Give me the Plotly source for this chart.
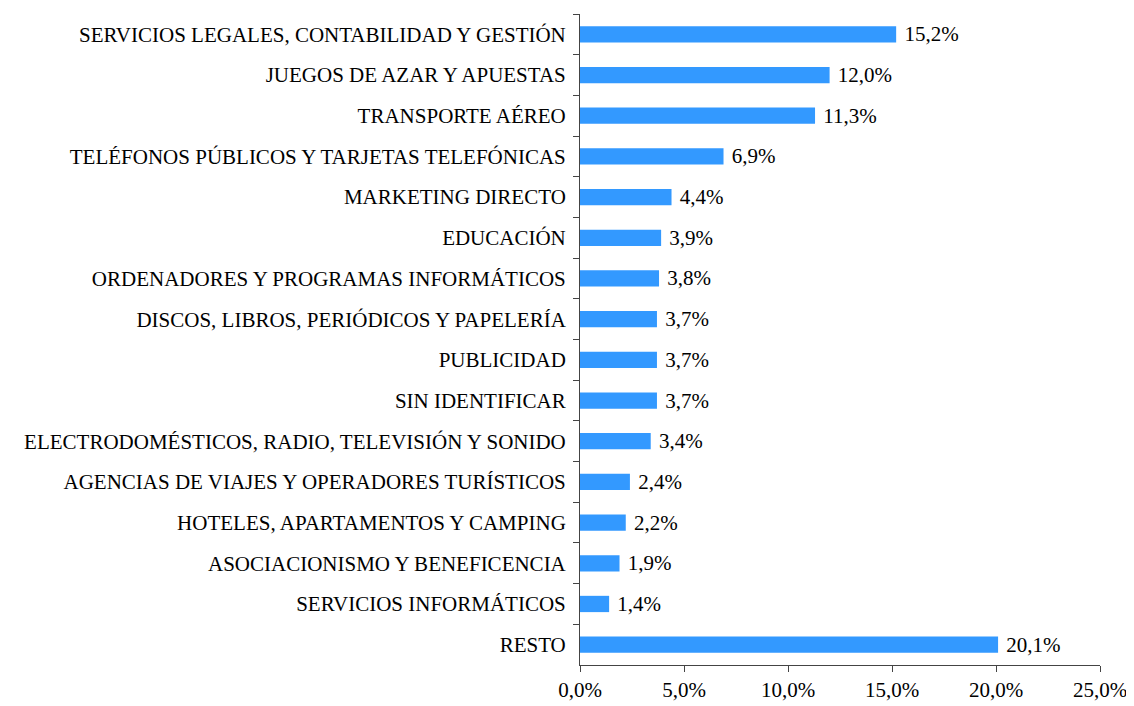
import plotly.graph_objects as go

categories = [
    "SERVICIOS LEGALES, CONTABILIDAD Y GESTIÓN",
    "JUEGOS DE AZAR Y APUESTAS",
    "TRANSPORTE AÉREO",
    "TELÉFONOS PÚBLICOS Y TARJETAS TELEFÓNICAS",
    "MARKETING DIRECTO",
    "EDUCACIÓN",
    "ORDENADORES Y PROGRAMAS INFORMÁTICOS",
    "DISCOS, LIBROS, PERIÓDICOS Y PAPELERÍA",
    "PUBLICIDAD",
    "SIN IDENTIFICAR",
    "ELECTRODOMÉSTICOS, RADIO, TELEVISIÓN Y SONIDO",
    "AGENCIAS DE VIAJES Y OPERADORES TURÍSTICOS",
    "HOTELES, APARTAMENTOS Y CAMPING",
    "ASOCIACIONISMO Y BENEFICENCIA",
    "SERVICIOS INFORMÁTICOS",
    "RESTO",
]
values = [15.2, 12.0, 11.3, 6.9, 4.4, 3.9, 3.8, 3.7, 3.7, 3.7, 3.4, 2.4, 2.2, 1.9, 1.4, 20.1]
x_ticks = [0, 5, 10, 15, 20, 25]
x_ticktext = [f"{v:.1f}%".replace(".", ",") for v in x_ticks]

font = "Liberation Serif, Times New Roman, serif"
FS = 21

fig = go.Figure(go.Bar(
    x=values, y=categories, orientation="h",
    marker=dict(color="#3399FF", line=dict(width=0)),
    width=0.4,
    text=values, texttemplate="\u00a0%{x:.1f}%", textposition="outside",
    textfont=dict(family=font, size=FS, color="black"),
    constraintext="none",
    cliponaxis=False,
))

# page body has an 8px default margin; compensate in figure size/margins
fig.update_layout(
    width=1126, height=698,
    margin=dict(l=572, r=34, t=6, b=41),
    paper_bgcolor="white", plot_bgcolor="white",
    separators=",.",
    font=dict(family=font, size=FS, color="black"),
    showlegend=False,
    bargap=0.6,
)
fig.update_xaxes(
    range=[0, 25], tickvals=x_ticks, ticktext=x_ticktext,
    showline=True, linecolor="#444", linewidth=1,
    ticks="outside", ticklen=6, tickcolor="#444",
    showgrid=False, zeroline=False,
    tickfont=dict(family=font, size=FS, color="black"),
    automargin=False,
)
fig.update_yaxes(
    autorange="reversed", type="category",
    showline=True, linecolor="#444", linewidth=1,
    ticks="outside", ticklen=6, tickcolor="#444", tickson="boundaries",
    showgrid=False,
    tickfont=dict(family=font, size=FS, color="black"),
    ticklabelstandoff=9,
    automargin=False,
)

fig.write_html("out.html")
